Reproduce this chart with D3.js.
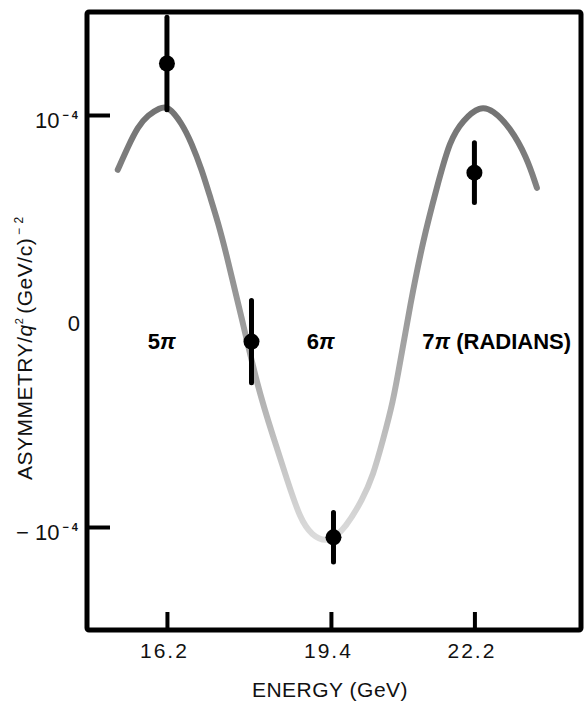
<!DOCTYPE html>
<html>
<head>
<meta charset="utf-8">
<script src="https://cdn.jsdelivr.net/npm/d3@7"></script>
<style>
  body { margin: 0; background: #fff; }
  svg { display: block; }
</style>
</head>
<body>
<div id="vis"></div>
<script>
// measured points (asymmetry in units of 1e-4 per (GeV/c)^2)
var energies = [16.2, 17.85, 19.45, 22.2];
var asymmetry = [1.25, -0.10, -1.05, 0.72];
var errors = [0.225, 0.2, 0.12, 0.145];

// theory curve
var curveEnergy = [15.24, 15.44, 15.63, 15.83, 16.06, 16.22, 16.49, 16.68, 16.88, 17.04, 17.2, 17.37, 17.49, 17.62,
  17.98, 18.27, 18.54, 18.80, 19.02, 19.35, 19.70, 20.02, 20.22, 20.42, 20.61, 20.75, 20.94, 21.20, 21.47, 21.72, 21.98,
  22.31, 22.56, 22.89, 23.22, 23.42];
var curveAsym = [0.734, 0.846, 0.943, 1.0, 1.034, 1.045, 0.961, 0.864, 0.734, 0.604, 0.477, 0.314, 0.186, 0.056,
  -0.332, -0.559, -0.768, -0.961, -1.04, -1.08, -1.0, -0.864, -0.753, -0.574, -0.395, -0.201, 0.070, 0.395, 0.651, 0.879, 0.976,
  1.045, 1.024, 0.942, 0.797, 0.646];

var xTicks = [16.2, 19.4, 22.2];
var yTickMarks = [-1, 1];
var yLabels = [
  { v: 1, text: "10", sign: "" },
  { v: 0, text: "0", sign: "" },
  { v: -1, text: "10", sign: "\u2212 " }
];
var phaseLabels = [
  { e: 16.10, text: "5", rest: "" },
  { e: 19.20, text: "6", rest: "" },
  { e: 21.18, text: "7", rest: " (RADIANS)" }
];

var width = 587, height = 701;
var frame = { left: 87, right: 581, top: 12, bottom: 630 };
var font = '"Liberation Sans", Arial, sans-serif';

var svg = d3.select('#vis').append('svg')
  .attr('width', width)
  .attr('height', height);

svg.append('rect').attr('width', width).attr('height', height).attr('fill', '#fff');

var x = d3.scaleLinear().domain([14.64, 24.28]).range([frame.left, frame.right]);
var y = d3.scaleLinear().domain([-1.5, 1.5]).range([frame.bottom, frame.top]);

// gradient so the curve fades toward the bottom like the print
var defs = svg.append('defs');
var grad = defs.append('linearGradient')
  .attr('id', 'fade')
  .attr('gradientUnits', 'userSpaceOnUse')
  .attr('x1', 0).attr('x2', 0)
  .attr('y1', y(1.1)).attr('y2', y(-1.1));
grad.append('stop').attr('offset', '0%').attr('stop-color', '#707070');
grad.append('stop').attr('offset', '50%').attr('stop-color', '#9c9c9c');
grad.append('stop').attr('offset', '100%').attr('stop-color', '#dedede');

var curvePts = curveEnergy.map(function (e, i) { return [e, curveAsym[i]]; });
var line = d3.line()
  .x(function (d) { return x(d[0]); })
  .y(function (d) { return y(d[1]); })
  .curve(d3.curveBasis);

svg.append('path')
  .datum(curvePts)
  .attr('d', line)
  .attr('fill', 'none')
  .attr('stroke', 'url(#fade)')
  .attr('stroke-width', 6)
  .attr('stroke-linecap', 'round');

// frame
svg.append('rect')
  .attr('x', frame.left).attr('y', frame.top)
  .attr('width', frame.right - frame.left)
  .attr('height', frame.bottom - frame.top)
  .attr('rx', 2)
  .attr('fill', 'none')
  .attr('stroke', '#000')
  .attr('stroke-width', 5);

// x axis, ticks point inward
var xAxis = svg.append('g')
  .attr('transform', 'translate(0,' + frame.bottom + ')')
  .call(d3.axisBottom(x).tickValues(xTicks).tickSize(-18).tickPadding(13)
    .tickFormat(d3.format('.1f')));
xAxis.select('.domain').remove();
xAxis.selectAll('.tick line').attr('stroke', '#000').attr('stroke-width', 4);
xAxis.selectAll('.tick text')
  .attr('fill', '#111')
  .attr('dx', -3)
  .style('font-family', font)
  .style('font-size', '21px')
  .style('letter-spacing', '2px');

// y axis marks (none at zero)
var yAxis = svg.append('g')
  .attr('transform', 'translate(' + frame.left + ',0)')
  .call(d3.axisLeft(y).tickValues(yTickMarks).tickSize(-23).tickFormat(''));
yAxis.select('.domain').remove();
yAxis.selectAll('.tick line').attr('stroke', '#000').attr('stroke-width', 4);

var yl = svg.append('g').selectAll('text')
  .data(yLabels)
  .enter().append('text')
  .attr('x', function (d) { return d.v === 0 ? 80 : 78; })
  .attr('y', function (d) { return y(d.v) + (d.v === 0 ? 10 : 13); })
  .attr('text-anchor', 'end')
  .attr('fill', '#111')
  .style('font-family', font)
  .style('font-size', '22px');
yl.append('tspan').text(function (d) { return d.sign + d.text; });
yl.filter(function (d) { return d.v !== 0; })
  .append('tspan')
  .attr('dx', 3)
  .attr('dy', -9)
  .style('font-size', '11px')
  .style('font-weight', 'bold')
  .text('\u2212 4');

// axis titles
svg.append('text')
  .attr('x', 330).attr('y', 697)
  .attr('text-anchor', 'middle')
  .attr('fill', '#111')
  .style('font-family', font)
  .style('font-size', '21px')
  .style('letter-spacing', '0.5px')
  .text('ENERGY (GeV)');

var ytitle = svg.append('text')
  .attr('transform', 'translate(32,480) rotate(-90)')
  .attr('text-anchor', 'start')
  .attr('fill', '#111')
  .style('font-family', font)
  .style('font-size', '21px')
  .style('letter-spacing', '0.5px');
ytitle.append('tspan').text('ASYMMETRY/');
ytitle.append('tspan').style('font-style', 'italic').text('q');
ytitle.append('tspan').attr('dy', -9).style('font-size', '11px').text('2');
ytitle.append('tspan').attr('dy', 9).attr('dx', 4).text('(GeV/c)');
ytitle.append('tspan').attr('dy', -9).attr('dx', 3).style('font-size', '12px').text('\u2212 2');

// phase labels
var pl = svg.append('g').selectAll('text')
  .data(phaseLabels)
  .enter().append('text')
  .attr('x', function (d) { return x(d.e); })
  .attr('y', y(0) + 28)
  .attr('text-anchor', function (d) { return d.rest ? 'start' : 'middle'; })
  .attr('fill', '#000')
  .style('font-family', font)
  .style('font-size', '22px')
  .style('font-weight', 'bold');
pl.append('tspan').text(function (d) { return d.text; });
pl.append('tspan').style('font-style', 'italic').text('\u03c0');
pl.append('tspan').text(function (d) { return d.rest; });

// data points with error bars
var pts = svg.append('g').selectAll('g')
  .data(energies.map(function (e, i) { return { e: e, a: asymmetry[i], err: errors[i] }; }))
  .enter().append('g');

pts.append('line')
  .attr('x1', function (d) { return x(d.e); })
  .attr('x2', function (d) { return x(d.e); })
  .attr('y1', function (d) { return y(d.a + d.err); })
  .attr('y2', function (d) { return y(d.a - d.err); })
  .attr('stroke', '#000')
  .attr('stroke-width', 5)
  .attr('stroke-linecap', 'round');

pts.append('circle')
  .attr('cx', function (d) { return x(d.e); })
  .attr('cy', function (d) { return y(d.a); })
  .attr('r', 8)
  .attr('fill', '#000');
</script>
</body>
</html>
